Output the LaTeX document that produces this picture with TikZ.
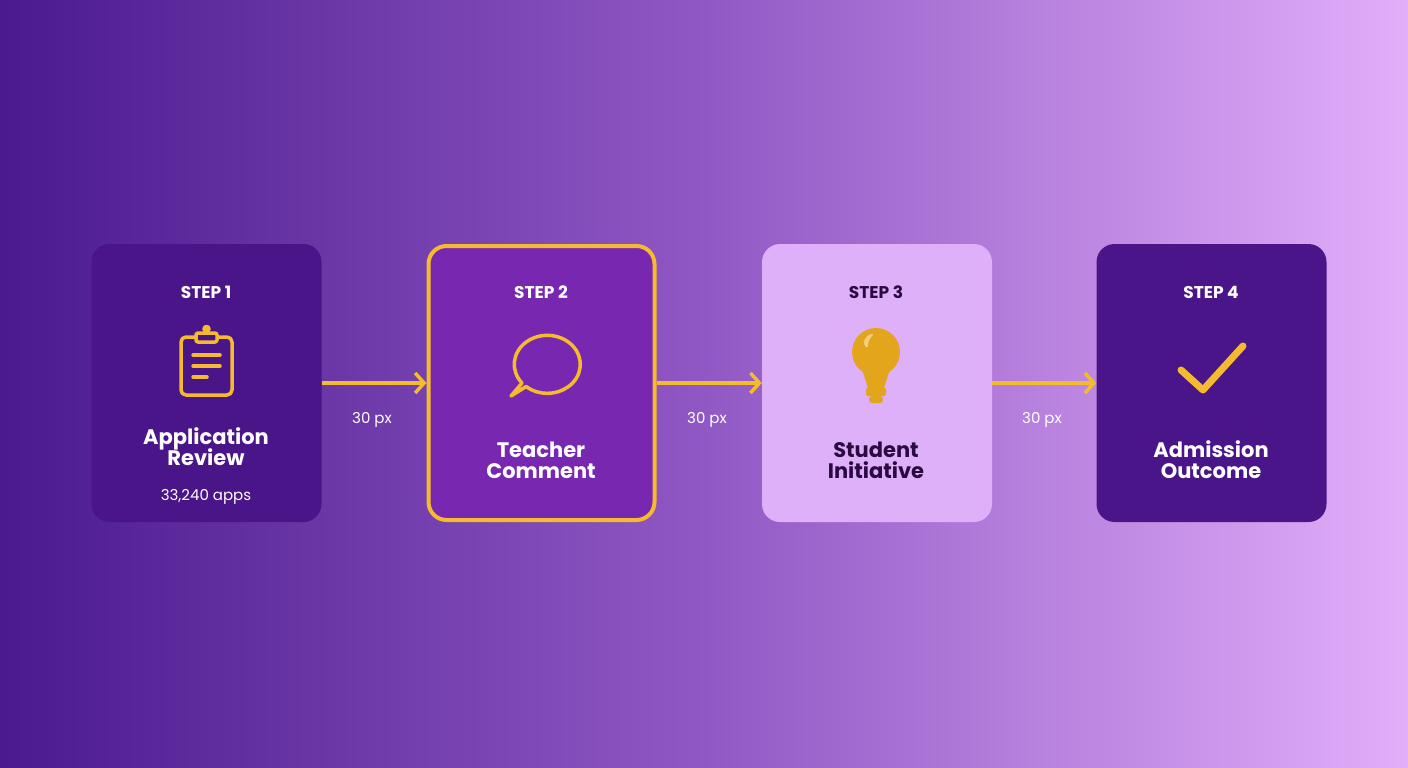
\documentclass[tikz,border=0pt]{standalone}
\usepackage{fontspec}
\setmainfont{Poppins}
\usetikzlibrary{arrows.meta}
\definecolor{bgl}{HTML}{4A1A8E}
\definecolor{bgm}{HTML}{9058C4}
\definecolor{bgr}{HTML}{E2AEFA}
\definecolor{dark}{HTML}{4A1588}
\definecolor{mid}{HTML}{7828B0}
\definecolor{light}{HTML}{DFB0FA}
\definecolor{ylw}{HTML}{F5BA2E}
\definecolor{gold}{HTML}{E3A51C}
\definecolor{ink}{HTML}{2A0A40}
\begin{document}
\begin{tikzpicture}[x=1pt,y=-1pt,
  box/.style={rounded corners=18pt,minimum width=230pt,minimum height=278pt,inner sep=0pt},
  stp/.style={font=\bfseries\fontsize{17}{20}\selectfont},
  ttl/.style={font=\bfseries\fontsize{21}{25}\selectfont,align=center},
  arr/.style={draw=ylw,line width=3.5pt,-{Straight Barb[length=9pt,width=20pt,line width=3.5pt]}},
  lbl/.style={text=white,font=\fontsize{15}{18}\selectfont},
  ico/.style={draw=ylw,line width=3.5pt,line cap=round,line join=round}]
\shade[left color=bgl,right color=bgr,middle color=bgm] (0,0) rectangle (1408,768);
\useasboundingbox (0,0) rectangle (1408,768);
\node[box,fill=dark] (b1) at (206.5,383) {};
\node[box,fill=mid,draw=ylw,line width=4pt,minimum width=226pt,minimum height=274pt] (b2) at (541.5,383) {};
\node[box,fill=light] (b3) at (877,383) {};
\node[box,fill=dark] (b4) at (1211.5,383) {};
\node[stp,text=white] (s1) at (206,292) {STEP 1};
\node[stp,text=white] (s2) at (541,292) {STEP 2};
\node[stp,text=ink] (s3) at (876,292) {STEP 3};
\node[stp,text=white] (s4) at (1211,292) {STEP 4};
\node[ttl,text=white] (t1) at (206,447) {Application\\[-4pt]Review};
\node[text=white,font=\fontsize{15}{18}\selectfont] (n1) at (206,497) {33,240 apps};
\node[ttl,text=white] (t2) at (541,460) {Teacher\\[-4pt]Comment};
\node[ttl,text=ink] (t3) at (876,460) {Student\\[-4pt]Initiative};
\node[ttl,text=white] (t4) at (1211,460) {Admission\\[-4pt]Outcome};
\draw[arr] (b1.east |- 0,383) -- (b2.west |- 0,383);
\draw[arr] (b2.east |- 0,383) -- (b3.west |- 0,383);
\draw[arr] (b3.east |- 0,383) -- (b4.west |- 0,383);
\node[lbl] (l1) at (372,420) {30 px};
\node[lbl] (l2) at (707,420) {30 px};
\node[lbl] (l3) at (1042,420) {30 px};
% clipboard
\draw[ico,rounded corners=5pt] (181,337) rectangle (232,395);
\draw[ico,fill=dark,rounded corners=2pt] (196,333) rectangle (217,342);
\draw[ico,fill=ylw] (206.5,329) circle (2.5pt);
\draw[ico] (193,355) -- (220,355) (193,366) -- (220,366) (193,377) -- (207,377);
% speech bubble
\draw[ico] (522,383) arc[start angle=220,end angle=-130,x radius=33pt,y radius=29pt]
  -- (511,396) -- cycle;
% bulb
\fill[gold] (876,352) circle (24pt);
\fill[gold] (861,366) -- (891,366) -- (884,388) -- (868,388) -- cycle;
\fill[gold,rounded corners=2pt] (866,388) rectangle (886,396);
\fill[gold,rounded corners=3pt] (869,396) rectangle (883,403);
\fill[white,opacity=0.45,rounded corners=2pt] (864,346) .. controls (864,336) and (870,334) .. (874,334) .. controls (870,338) and (868,342) .. (868,348) -- cycle;
% check
\draw[ico,line width=7pt] (1181,370) -- (1203,390) -- (1243,346);
\end{tikzpicture}
\end{document}
